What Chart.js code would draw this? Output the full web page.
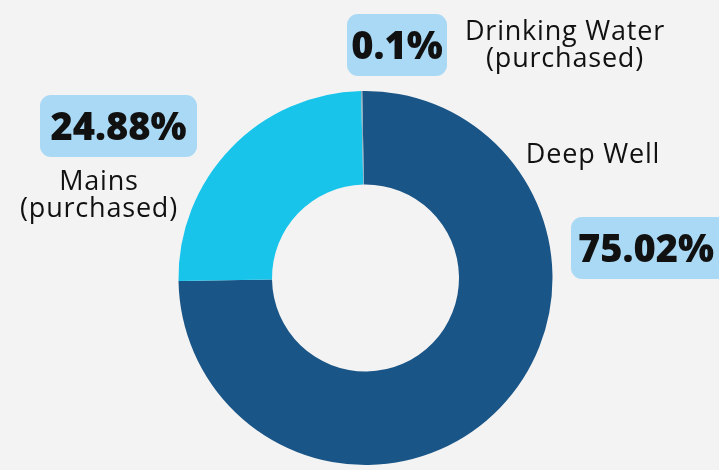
<!DOCTYPE html>
<html>
<head>
<meta charset="utf-8">
<script src="https://cdn.jsdelivr.net/npm/chart.js@4.4.1/dist/chart.umd.min.js"></script>
<style>
    html, body { margin: 0; padding: 0; background: #f3f3f3; }
    #wrap { width: 719px; height: 470px; position: relative; }
</style>
</head>
<body>
<div id="wrap"><canvas id="waterChart"></canvas></div>
<script>
// data
const categories = ['Deep Well', 'Mains\n(purchased)', 'Drinking Water\n(purchased)'];
const shares = [75.02, 24.88, 0.1];
const sliceColors = ['#1a5587', '#18c4ea', '#8aa6bb'];

// where each callout sits (name text centre / percent box)
const calloutLayout = [
    { name: [593, 163], box: [571, 217, 160, 62] },
    { name: [99, 190], box: [40, 95, 157, 62] },
    { name: [565, 40], box: [347, 14, 100, 62] }
];

const calloutPlugin = {
    id: 'callouts',
    afterDraw(chart) {
        const ctx = chart.ctx;
        ctx.save();
        calloutLayout.forEach((pos, i) => {
            const [bx, by, bw, bh] = pos.box;
            ctx.fillStyle = '#a9d9f4';
            ctx.beginPath();
            ctx.roundRect(bx, by, bw, bh, 11);
            ctx.fill();

            ctx.fillStyle = '#111';
            ctx.letterSpacing = '0px';
            ctx.font = '800 38px "Open Sans", sans-serif';
            ctx.textAlign = 'center';
            ctx.textBaseline = 'alphabetic';
            const pctX = i === 0 ? 646 : bx + bw / 2;
            ctx.fillText(shares[i] + '%', pctX, by + 45);

            ctx.font = '400 27px "Open Sans", sans-serif';
            ctx.letterSpacing = '0.8px';
            const lines = categories[i].split('\n');
            lines.forEach((line, k) => {
                ctx.fillText(line, pos.name[0], pos.name[1] + k * 27);
            });
        });
        ctx.restore();
    }
};

document.addEventListener('DOMContentLoaded', () => {
    const canvas = document.getElementById('waterChart');
    new Chart(canvas.getContext('2d'), {
        type: 'doughnut',
        data: {
            labels: categories,
            datasets: [{
                data: shares,
                backgroundColor: sliceColors,
                borderWidth: 0
            }]
        },
        options: {
            responsive: true,
            maintainAspectRatio: false,
            animation: false,
            cutout: '50%',
            rotation: -1,
            layout: {
                padding: { left: 178.5, right: 166.5, top: 91, bottom: 5 }
            },
            plugins: {
                legend: { display: false },
                tooltip: { enabled: false }
            }
        },
        plugins: [calloutPlugin]
    });
});
</script>
</body>
</html>
